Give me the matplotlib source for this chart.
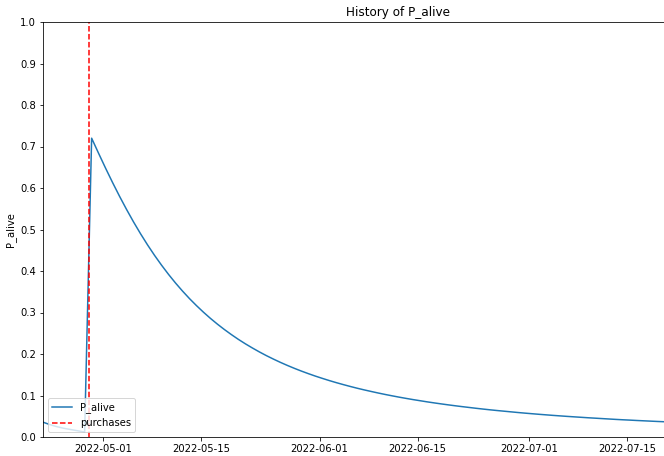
import pandas as pd
import matplotlib
matplotlib.use("Agg")
import matplotlib.pyplot as plt
import matplotlib.dates as mdates

# data: daily P_alive values, first point 2022-04-21
start_date = "2022-04-21 09:00"
p_alive = [
    0.043, 0.036, 0.030, 0.025, 0.021, 0.018, 0.015, 0.012,
    0.7200, 0.6834, 0.6476, 0.6130, 0.5798, 0.5482, 0.5181, 0.4897,
    0.4629, 0.4377, 0.4141, 0.3919, 0.3711, 0.3517, 0.3335, 0.3166,
    0.3007, 0.2858, 0.2719, 0.2589, 0.2467, 0.2352, 0.2245, 0.2145,
    0.2050, 0.1961, 0.1878, 0.1799, 0.1725, 0.1655, 0.1589, 0.1527,
    0.1468, 0.1413, 0.1360, 0.1310, 0.1263, 0.1218, 0.1175, 0.1135,
    0.1097, 0.1060, 0.1025, 0.0992, 0.0960, 0.0930, 0.0901, 0.0874,
    0.0847, 0.0822, 0.0798, 0.0775, 0.0753, 0.0732, 0.0712, 0.0692,
    0.0673, 0.0655, 0.0638, 0.0622, 0.0606, 0.0590, 0.0575, 0.0561,
    0.0547, 0.0534, 0.0521, 0.0509, 0.0497, 0.0486, 0.0475, 0.0464,
    0.0454, 0.0444, 0.0434, 0.0424, 0.0415, 0.0407, 0.0398, 0.0390,
    0.0382, 0.0374, 0.0367, 0.0360,
]
purchase_dates = ["2022-04-29"]

dates = pd.date_range(start=start_date, periods=len(p_alive), freq="D")

fig = plt.figure(figsize=(664 / 72, 456 / 72), dpi=72)
# the original axes runs past the right edge of the picture
ax = fig.add_axes([43 / 664, 19 / 456, 710 / 664, 415 / 456])

ax.plot(dates, p_alive, label="P_alive")
for i, d in enumerate(purchase_dates):
    ax.axvline(pd.Timestamp(d), color="red", linestyle="--",
               label="purchases" if i == 0 else None)

ax.set_xlim(pd.Timestamp("2022-04-22 10:00"), pd.Timestamp("2022-08-02 00:00"))
ax.set_ylim(0, 1)
ax.set_yticks([i / 10 for i in range(11)])
ax.xaxis.set_major_locator(mdates.DayLocator(bymonthday=[1, 15]))
ax.xaxis.set_major_formatter(mdates.DateFormatter("%Y-%m-%d"))

ax.set_title("History of P_alive")
ax.set_ylabel("P_alive")
ax.legend(loc="lower left")

fig.savefig("out.png", dpi=72)
